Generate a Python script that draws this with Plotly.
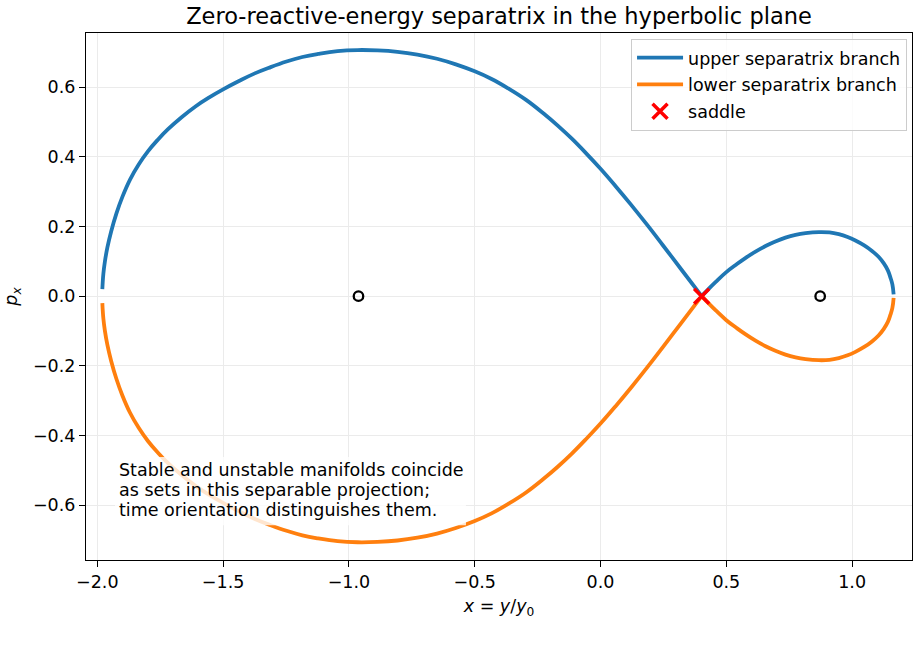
import plotly.graph_objects as go

# ---- data ----
# upper branch, left arc (from left turning point to the saddle)
upper_left_x = [-1.980, -1.976, -1.970, -1.960, -1.945, -1.924, -1.900, -1.870, -1.835,
                -1.799, -1.760, -1.720, -1.665, -1.610, -1.555, -1.500, -1.437, -1.374,
                -1.311, -1.248, -1.185, -1.122, -1.045, -0.965, -0.886, -0.807, -0.728,
                -0.650, -0.575, -0.500, -0.433, -0.367, -0.296, -0.225, -0.170, -0.115,
                -0.058, 0.000, 0.060, 0.121, 0.184, 0.247, 0.325, 0.402]
upper_left_p = [0.020, 0.064, 0.099, 0.140, 0.186, 0.238, 0.286, 0.335, 0.379,
                0.416, 0.449, 0.479, 0.514, 0.545, 0.571, 0.594, 0.618, 0.640,
                0.658, 0.674, 0.687, 0.696, 0.704, 0.707, 0.706, 0.702, 0.694,
                0.682, 0.666, 0.646, 0.624, 0.597, 0.564, 0.524, 0.490, 0.453,
                0.411, 0.366, 0.316, 0.263, 0.206, 0.147, 0.073, 0.000]
# upper branch, right loop (from the saddle to the right turning point)
upper_right_x = [0.402, 0.430, 0.458, 0.500, 0.540, 0.577, 0.616, 0.656, 0.695, 0.735,
                 0.775, 0.815, 0.868, 0.910, 0.947, 0.982, 1.013, 1.048, 1.079, 1.105,
                 1.126, 1.142, 1.152, 1.160, 1.165]
upper_right_p = [0.000, 0.021, 0.041, 0.069, 0.091, 0.110, 0.128, 0.144, 0.157, 0.168,
                 0.176, 0.181, 0.184, 0.183, 0.178, 0.170, 0.160, 0.146, 0.130, 0.113,
                 0.094, 0.074, 0.054, 0.034, 0.005]
# lower branch (mirror image of the upper one)
lower_left_x = [-1.980, -1.976, -1.970, -1.960, -1.945, -1.924, -1.900, -1.870, -1.835,
                -1.799, -1.760, -1.720, -1.665, -1.610, -1.555, -1.500, -1.437, -1.374,
                -1.311, -1.248, -1.185, -1.122, -1.045, -0.965, -0.886, -0.807, -0.728,
                -0.650, -0.575, -0.500, -0.433, -0.367, -0.296, -0.225, -0.170, -0.115,
                -0.058, 0.000, 0.060, 0.121, 0.184, 0.247, 0.325, 0.402]
lower_left_p = [-0.020, -0.064, -0.099, -0.140, -0.186, -0.238, -0.286, -0.335, -0.379,
                -0.416, -0.449, -0.479, -0.514, -0.545, -0.571, -0.594, -0.618, -0.640,
                -0.658, -0.674, -0.687, -0.696, -0.704, -0.707, -0.706, -0.702, -0.694,
                -0.682, -0.666, -0.646, -0.624, -0.597, -0.564, -0.524, -0.490, -0.453,
                -0.411, -0.366, -0.316, -0.263, -0.206, -0.147, -0.073, 0.000]
lower_right_x = [0.402, 0.430, 0.458, 0.500, 0.540, 0.577, 0.616, 0.656, 0.695, 0.735,
                 0.775, 0.815, 0.868, 0.910, 0.947, 0.982, 1.013, 1.048, 1.079, 1.105,
                 1.126, 1.142, 1.152, 1.160, 1.165]
lower_right_p = [0.000, -0.021, -0.041, -0.069, -0.091, -0.110, -0.128, -0.144, -0.157, -0.168,
                 -0.176, -0.181, -0.184, -0.183, -0.178, -0.170, -0.160, -0.146, -0.130, -0.113,
                 -0.094, -0.074, -0.054, -0.034, -0.005]

saddle_x = [0.402]
saddle_p = [0.0]
centers_x = [-0.962, 0.873]
centers_p = [0.0, 0.0]

x_ticks = [-2.0, -1.5, -1.0, -0.5, 0.0, 0.5, 1.0]
x_tick_labels = ["\u22122.0", "\u22121.5", "\u22121.0", "\u22120.5", "0.0", "0.5", "1.0"]
y_ticks = [-0.6, -0.4, -0.2, 0.0, 0.2, 0.4, 0.6]
y_tick_labels = ["\u22120.6", "\u22120.4", "\u22120.2", "0.0", "0.2", "0.4", "0.6"]

note_lines = ["Stable and unstable manifolds coincide",
              "as sets in this separable projection;",
              "time orientation distinguishes them."]

BLUE = "#1f77b4"
ORANGE = "#ff7f0e"
FONT = "DejaVu Sans"
FS = 17.5
LW = 3.8
SM = 1.2

fig = go.Figure()
fig.add_trace(go.Scatter(x=upper_left_x, y=upper_left_p, mode="lines",
                         line=dict(color=BLUE, width=LW, shape="spline", smoothing=SM),
                         name="upper separatrix branch", legendgroup="u"))
fig.add_trace(go.Scatter(x=upper_right_x, y=upper_right_p, mode="lines",
                         line=dict(color=BLUE, width=LW, shape="spline", smoothing=SM),
                         name="upper separatrix branch", legendgroup="u", showlegend=False))
fig.add_trace(go.Scatter(x=lower_left_x, y=lower_left_p, mode="lines",
                         line=dict(color=ORANGE, width=LW, shape="spline", smoothing=SM),
                         name="lower separatrix branch", legendgroup="l"))
fig.add_trace(go.Scatter(x=lower_right_x, y=lower_right_p, mode="lines",
                         line=dict(color=ORANGE, width=LW, shape="spline", smoothing=SM),
                         name="lower separatrix branch", legendgroup="l", showlegend=False))
fig.add_trace(go.Scatter(x=saddle_x, y=saddle_p, mode="markers",
                         marker=dict(symbol="x-thin", size=15, color="red",
                                     line=dict(color="red", width=3.5)),
                         name="saddle", legendgroup="s"))
fig.add_trace(go.Scatter(x=centers_x, y=centers_p, mode="markers",
                         marker=dict(symbol="circle-open", size=9.5, color="black",
                                     line=dict(color="black", width=2.3)),
                         showlegend=False, hoverinfo="skip"))

axis_common = dict(showline=True, mirror=True, linecolor="black", linewidth=1.2,
                   ticks="outside", ticklen=6, tickwidth=1.2, tickcolor="black",
                   showgrid=True, gridcolor="#ebebeb", gridwidth=1, zeroline=False,
                   tickfont=dict(family=FONT, size=FS, color="black"))

# semi-transparent text box (drawn above the curves, like the reference)
box_shape = dict(type="rect", xref="paper", yref="paper",
                 x0=0.0351, x1=0.460, y0=0.066, y1=0.1955,
                 fillcolor="rgba(255,255,255,0.8)", line=dict(width=0), layer="above")

note_y = [0.1708, 0.1328, 0.0949]
annotations = [dict(text=t, xref="paper", yref="paper", x=0.035, y=yy,
                    xanchor="left", yanchor="middle", align="left", showarrow=False,
                    borderpad=3, font=dict(family=FONT, size=FS, color="black"))
               for t, yy in zip(note_lines, note_y)]

fig.update_layout(
    width=923, height=660,
    margin=dict(l=86, r=11, t=33, b=100),
    paper_bgcolor="white", plot_bgcolor="white",
    font=dict(family=FONT, size=FS, color="black"),
    title=dict(text="Zero-reactive-energy separatrix in the hyperbolic plane",
               x=0.5, xref="paper", xanchor="center",
               y=1 - 16 / 660, yref="container", yanchor="middle",
               font=dict(family=FONT, size=22.5, color="black")),
    xaxis=dict(range=[-2.045, 1.238], tickvals=x_ticks, ticktext=x_tick_labels,
               title=dict(text="<i>x</i> = <i>y</i>/<i>y</i><sub>0</sub>",
                          font=dict(family=FONT, size=FS), standoff=8),
               **axis_common),
    yaxis=dict(range=[-0.758, 0.756], tickvals=y_ticks, ticktext=y_tick_labels,
               title=dict(text="<i>p</i><sub><i>x</i></sub>",
                          font=dict(family=FONT, size=FS), standoff=10),
               **axis_common),
    legend=dict(x=0.994, xanchor="right", y=0.989, yanchor="top",
                bgcolor="rgba(255,255,255,0.8)", bordercolor="#cccccc", borderwidth=1,
                font=dict(family=FONT, size=FS, color="black"),
                tracegroupgap=1, traceorder="grouped", itemwidth=46),
    shapes=[box_shape],
    annotations=annotations,
)

fig.write_html("out.html")
